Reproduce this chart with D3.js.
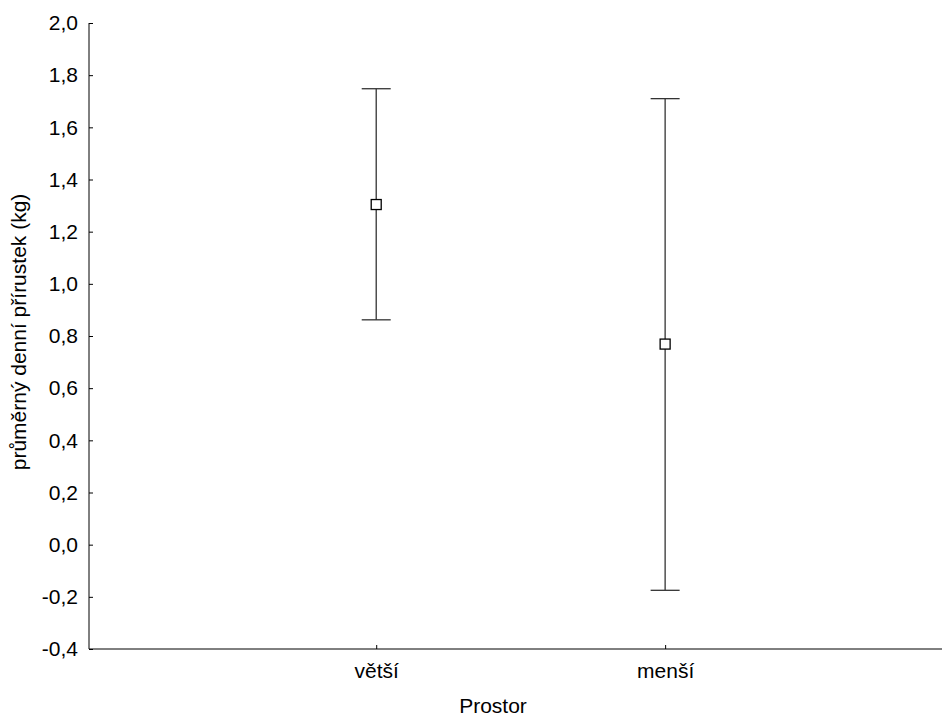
<!DOCTYPE html>
<html lang="cs">
<head>
<meta charset="UTF-8">
<title>Průměrný denní přírustek</title>
<script src="https://d3js.org/d3.v7.min.js"></script>
<style>
  body { margin: 0; background: #fff; }
  svg { display: block; font-family: "Liberation Sans", Arial, sans-serif; }
  .axis path, .axis line { stroke: #000; stroke-width: 1px; }
  .axis text { font-size: 21px; fill: #000; }
  .err { stroke: #333; stroke-width: 1.3px; }
  .mean { fill: #fff; stroke: #000; stroke-width: 1.3px; }
</style>
</head>
<body>
<div id="chart"></div>
<script>
const categories = ["větší", "menší"];
const means = [1.304, 0.769];
const upper = [1.748, 1.710];
const lower = [0.862, -0.175];
const yTicks = [-0.4, -0.2, 0.0, 0.2, 0.4, 0.6, 0.8, 1.0, 1.2, 1.4, 1.6, 1.8, 2.0];

const width = 942, height = 716;
const margin = {top: 23, right: 2, bottom: 67, left: 89};

const svg = d3.select("#chart").append("svg")
    .attr("width", width)
    .attr("height", height);

const y = d3.scaleLinear()
    .domain([-0.4, 2.0])
    .range([height - margin.bottom, margin.top]);

// category positions inside the plot
const plotW = width - margin.left - margin.right;
const x = d3.scalePoint()
    .domain(categories)
    .range([margin.left + plotW * 0.3375, margin.left + plotW * 0.677]);

const fmt = d => d3.format(".1f")(d).replace(".", ",").replace("−", "-");

svg.append("g")
    .attr("class", "axis")
    .attr("transform", "translate(" + margin.left + ",0)")
    .call(d3.axisLeft(y).tickValues(yTicks).tickFormat(fmt).tickSizeInner(-4).tickSizeOuter(0).tickPadding(11))
    .call(g => g.select(".domain").attr("d", "M0," + margin.top + "V" + y(-0.4)));

svg.append("g")
    .attr("class", "axis")
    .attr("transform", "translate(0," + y(-0.4) + ")")
    .call(d3.axisBottom(x).tickSizeInner(-4).tickSizeOuter(0).tickPadding(14))
    .call(g => g.select(".domain").attr("d", "M" + margin.left + ",0H" + width));

const rows = categories.map((c, i) => ({c, mean: means[i], hi: upper[i], lo: lower[i]}));
const capW = 14.5, sq = 10;

const grp = svg.append("g").selectAll("g").data(rows).join("g");

grp.append("line").attr("class", "err")
    .attr("x1", d => x(d.c)).attr("x2", d => x(d.c))
    .attr("y1", d => y(d.hi)).attr("y2", d => y(d.lo));
grp.append("line").attr("class", "err")
    .attr("x1", d => x(d.c) - capW).attr("x2", d => x(d.c) + capW)
    .attr("y1", d => y(d.hi)).attr("y2", d => y(d.hi));
grp.append("line").attr("class", "err")
    .attr("x1", d => x(d.c) - capW).attr("x2", d => x(d.c) + capW)
    .attr("y1", d => y(d.lo)).attr("y2", d => y(d.lo));
grp.append("rect").attr("class", "mean")
    .attr("x", d => x(d.c) - sq / 2).attr("y", d => y(d.mean) - sq / 2)
    .attr("width", sq).attr("height", sq);

svg.append("text")
    .attr("x", 493)
    .attr("y", 713)
    .attr("text-anchor", "middle")
    .attr("font-size", 21)
    .text("Prostor");

svg.append("text")
    .attr("transform", "translate(26,332) rotate(-90)")
    .attr("text-anchor", "middle")
    .attr("font-size", 21)
    .text("průměrný denní přírustek (kg)");
</script>
</body>
</html>
